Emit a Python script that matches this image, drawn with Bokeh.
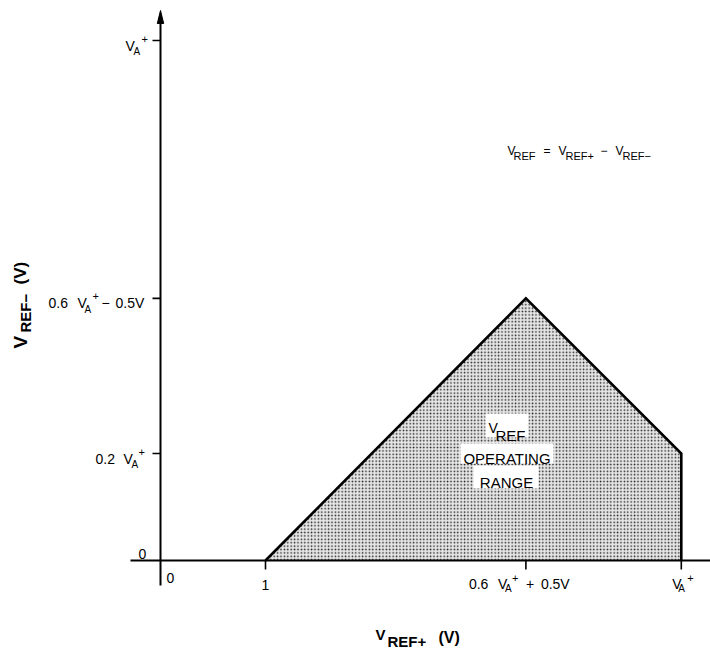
import numpy as np
from bokeh.plotting import figure
from bokeh.models import Range1d
from bokeh.core.properties import value
from bokeh.embed import file_html
from bokeh.resources import INLINE

# ---------------- data (chart units) ----------------
x_tick_vals = [0.0, 1.0, 3.48, 4.96]      # 0, 1, 0.6VA+ + 0.5V, VA+
y_tick_vals = [0.0, 1.0, 2.45, 4.86]      # 0, 0.2VA+, 0.6VA+ - 0.5V, VA+
region_x = [1.0, 3.48, 4.96, 4.96]        # operating-range outline (VREF+)
region_y = [0.0, 2.45, 1.0, 0.0]          # operating-range outline (VREF-)
formula_pos = (3.305, 3.83)
label_pos = (3.30, 1.0)

FONT = "Liberation Sans"
KX, KY = 105.0, 107.0        # pixels per chart unit
OX, OY = 160.0, 560.0        # window pixel of the origin
W, H = 710, 652

p = figure(width=W, height=H, output_backend="svg", toolbar_location=None,
           x_range=Range1d((0 - OX) / KX, (W - OX) / KX),
           y_range=Range1d((OY - H) / KY, OY / KY),
           x_axis_location=None, y_axis_location=None, min_border=0,
           outline_line_color=None, background_fill_color="white")
p.grid.visible = False


def piece(x, y, txt, dx, dy, size, bold=False, angle=0.0, align="left"):
    p.text(x=[x], y=[y], text=[txt], x_offset=dx, y_offset=dy, angle=angle,
           text_font=value(FONT), text_font_size=f"{size}px",
           text_font_style="bold" if bold else "normal",
           text_align=align, text_baseline="alphabetic", text_color="black")


# ---------------- operating range region ----------------
p.patch(region_x + [region_x[0]], region_y + [region_y[0]], fill_color="#e6e6e6",
        line_color=None, hatch_pattern="dot", hatch_color="black",
        hatch_scale=3.4, hatch_weight=1.8, hatch_alpha=0.85)
p.line(region_x, region_y, line_color="black", line_width=2.6, line_join="miter")

# ---------------- axes ----------------
x_end = (W - OX) / KX
y_top = (OY - 10) / KY
p.segment(x0=[(130 - OX) / KX], y0=[0], x1=[x_end], y1=[0], line_color="black", line_width=1.8)
p.segment(x0=[0], y0=[(OY - 585) / KY], x1=[0], y1=[y_top - 6 / KY], line_color="black", line_width=2)
p.patch([0, -3.2 / KX, 3.2 / KX], [y_top, y_top - 13 / KY, y_top - 13 / KY],
        fill_color="black", line_color="black", line_width=1)

# ticks
yt = y_tick_vals[1:]
p.segment(x0=[-8 / KX] * len(yt), y0=yt, x1=[0] * len(yt), y1=yt, line_color="black", line_width=1.6)
xt = x_tick_vals[1:]
p.segment(x0=xt, y0=[0] * len(xt), x1=xt, y1=[-9 / KY] * len(xt), line_color="black", line_width=1.6)

# ---------------- y tick labels ----------------
x0 = 0.0
piece(x0, y_tick_vals[0], "0", -22, -7, 14)
# 0.2 VA+
y = y_tick_vals[1]
piece(x0, y, "0.2", -65, 5, 14)
piece(x0, y, "V", -37, 5, 14)
piece(x0, y, "A", -29, 11, 10)
piece(x0, y, "+", -22, -2, 11)
# 0.6 VA+ - 0.5V
y = y_tick_vals[2]
piece(x0, y, "0.6", -112, 5, 14)
piece(x0, y, "V", -83, 5, 14)
piece(x0, y, "A", -76, 11, 10)
piece(x0, y, "+", -68, -2, 11)
piece(x0, y, "\u2212", -59, 5, 14)
piece(x0, y, "0.5V", -45, 5, 14)
# VA+
y = y_tick_vals[3]
piece(x0, y, "V", -35, 6, 14)
piece(x0, y, "A", -27, 11, 10)
piece(x0, y, "+", -19, -1, 11)

# ---------------- x tick labels ----------------
piece(x_tick_vals[0], 0, "0", 6, 17, 14)
piece(x_tick_vals[1], 0, "1", 0, 24, 14, align="center")
x = x_tick_vals[2]
piece(x, 0, "0.6", -57, 23, 14)
piece(x, 0, "V", -28, 23, 14)
piece(x, 0, "A", -21, 28, 10)
piece(x, 0, "+", -14, 17, 11)
piece(x, 0, "+", 0, 23, 14)
piece(x, 0, "0.5V", 15, 23, 14)
x = x_tick_vals[3]
piece(x, 0, "V", -9, 23, 14)
piece(x, 0, "A", -3, 28, 10)
piece(x, 0, "+", 6, 17, 11)

# ---------------- formula ----------------
fx, fy = formula_pos
for txt, dx, dy, sz in [("V", 0, 0, 12), ("REF", 6, 5, 11), ("=", 36, 0, 12),
                        ("V", 51, 0, 12), ("REF+", 58, 5, 11), ("\u2212", 93, 0, 12),
                        ("V", 108, 0, 12), ("REF\u2212", 115, 5, 11)]:
    piece(fx, fy, txt, dx, dy, sz)

# ---------------- region label with white boxes ----------------
lx, ly = label_pos
p.rect(x=[lx, lx, lx - 1 / KX], y=[ly + 28 / KY, ly, ly - 23.5 / KY],
       width=[43, 93, 65], height=[24, 20, 23], width_units="screen", height_units="screen",
       fill_color="white", line_color=None)
piece(lx, ly, "V", -18.5, -26, 14)
piece(lx, ly, "REF", -11.5, -18, 15)
piece(lx, ly, "OPERATING", 0, 5, 15, align="center")
piece(lx, ly, "RANGE", -0.5, 29, 15, align="center")

# ---------------- axis titles ----------------
tx, ty = (375 - OX) / KX, (OY - 634) / KY
piece(tx, ty, "V", 0, 0, 15, bold=True)
piece(tx, ty, "REF+", 12, 7, 15, bold=True)
piece(tx, ty, "(V)", 63, 3, 16, bold=True)

ax, ay = (20 - OX) / KX, (OY - 348) / KY
piece(ax, ay, "V", 0, 0, 19, bold=True, angle=np.pi / 2)
piece(ax, ay, "REF\u2212", 5, -16, 15, bold=True, angle=np.pi / 2)
piece(ax, ay, "(V)", 0, -64, 17, bold=True, angle=np.pi / 2)

open("out.html", "w").write(file_html(p, INLINE))
